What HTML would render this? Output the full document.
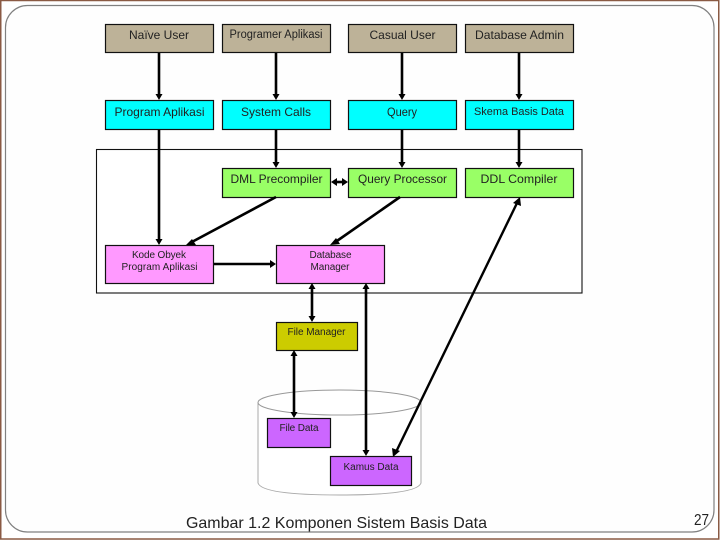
<!DOCTYPE html>
<html><head><meta charset="utf-8"><style>
html,body{margin:0;padding:0;background:#fff}
svg{display:block}
text{font-family:"Liberation Sans",sans-serif;fill:#222;text-anchor:middle}
.b{stroke:#111;stroke-width:1.2}
.a{stroke:#000;stroke-width:2.6;fill:none}
</style></head><body>
<svg width="720" height="540" viewBox="0 0 720 540" xmlns="http://www.w3.org/2000/svg">
<rect width="720" height="540" fill="#fff"/>
<rect x="0.75" y="0.5" width="718" height="538.5" fill="none" stroke="#8a5a44" stroke-width="1.5"/>
<rect x="5.5" y="5.5" width="708.5" height="526.5" rx="22" ry="22" fill="#fefefe" stroke="#808080" stroke-width="1.2"/>

<!-- container -->
<rect x="96.5" y="149.5" width="485.5" height="143.5" fill="#fff" stroke="#111" stroke-width="1.1"/>

<!-- cylinder -->
<path d="M258 402 V483 Q262 495 340 495 Q417 495 421 483 V402" fill="#fff" stroke="#aaa" stroke-width="1"/>
<ellipse cx="339.5" cy="402.5" rx="81.5" ry="12.5" fill="#fff" stroke="#999" stroke-width="1"/>

<!-- boxes -->
<g class="b">
<rect x="105.5" y="24.5" width="108" height="28" fill="#bdb298"/>
<rect x="222.5" y="24.5" width="108" height="28" fill="#bdb298"/>
<rect x="348.5" y="24.5" width="108" height="28" fill="#bdb298"/>
<rect x="465.5" y="24.5" width="108" height="28" fill="#bdb298"/>
<rect x="105.5" y="100.5" width="108" height="29" fill="#00ffff"/>
<rect x="222.5" y="100.5" width="108" height="29" fill="#00ffff"/>
<rect x="348.5" y="100.5" width="108" height="29" fill="#00ffff"/>
<rect x="465.5" y="100.5" width="108" height="29" fill="#00ffff"/>
<rect x="222.5" y="168.5" width="108" height="29" fill="#99ff66"/>
<rect x="348.5" y="168.5" width="108" height="29" fill="#99ff66"/>
<rect x="465.5" y="168.5" width="108" height="29" fill="#99ff66"/>
<rect x="105.5" y="245.5" width="108" height="38" fill="#ff99ff"/>
<rect x="276.5" y="245.5" width="108" height="38" fill="#ff99ff"/>
<rect x="276.5" y="322.5" width="81" height="28" fill="#cccc00"/>
<rect x="267.5" y="418.5" width="63" height="29" fill="#cc66ff"/>
<rect x="330.5" y="456.5" width="81" height="29" fill="#cc66ff"/>
</g>

<!-- connectors -->
<g class="a">
<path d="M159 53V96M276 53V96M402 53V96M519 53V96"/>
<path d="M159 130V240M276 130V164M402 130V164M519 130V164"/>
<path d="M335 182H344"/>
<path d="M276 197L190 243"/>
<path d="M400 197L334 243"/>
<path d="M214 264H272"/>
<path d="M312 288V318"/>
<path d="M366 288V452"/>
<path d="M294 355V414"/>
<path d="M518 201L396 452" stroke-width="2.4"/>
</g>
<g fill="#000">
<polygon points="155.5,94 162.5,94 159,100"/>
<polygon points="272.5,94 279.5,94 276,100"/>
<polygon points="398.5,94 405.5,94 402,100"/>
<polygon points="515.5,94 522.5,94 519,100"/>
<polygon points="155.5,239 162.5,239 159,245"/>
<polygon points="272.5,162 279.5,162 276,168"/>
<polygon points="398.5,162 405.5,162 402,168"/>
<polygon points="515.5,162 522.5,162 519,168"/>
<polygon points="331,182 337,178 337,186"/>
<polygon points="348,182 342,178 342,186"/>
<polygon points="186,245 192,239 196,245"/>
<polygon points="330,245 336,238 340,244"/>
<polygon points="276,264 270,260 270,268"/>
<polygon points="312,283 308.5,289 315.5,289"/>
<polygon points="312,322 308.5,316 315.5,316"/>
<polygon points="366,283 362.5,289 369.5,289"/>
<polygon points="366,456 362.5,450 369.5,450"/>
<polygon points="294,350 290.5,356 297.5,356"/>
<polygon points="294,418 290.5,412 297.5,412"/>
<polygon points="520,197 513,203 521,206"/>
<polygon points="393,457 392,448 400,451"/>
</g>

<!-- labels -->
<g font-size="12">
<text x="159" y="39" textLength="60" lengthAdjust="spacingAndGlyphs">Naïve User</text>
<text x="276" y="38" font-size="11.5" textLength="93" lengthAdjust="spacingAndGlyphs">Programer Aplikasi</text>
<text x="402.5" y="39" textLength="66" lengthAdjust="spacingAndGlyphs">Casual User</text>
<text x="519.5" y="39" textLength="89" lengthAdjust="spacingAndGlyphs">Database Admin</text>
<text x="159.5" y="116" textLength="90" lengthAdjust="spacingAndGlyphs">Program Aplikasi</text>
<text x="276" y="116" textLength="70" lengthAdjust="spacingAndGlyphs">System Calls</text>
<text x="402" y="116" textLength="30" lengthAdjust="spacingAndGlyphs">Query</text>
<text x="519" y="115" font-size="11" textLength="90" lengthAdjust="spacingAndGlyphs">Skema Basis Data</text>
<text x="276.5" y="183" textLength="92" lengthAdjust="spacingAndGlyphs">DML Precompiler</text>
<text x="402.5" y="183" textLength="89" lengthAdjust="spacingAndGlyphs">Query Processor</text>
<text x="519" y="183" textLength="77" lengthAdjust="spacingAndGlyphs">DDL Compiler</text>
</g>
<g font-size="10">
<text x="159" y="258" textLength="54" lengthAdjust="spacing">Kode Obyek</text>
<text x="159.5" y="270" textLength="76" lengthAdjust="spacing">Program Aplikasi</text>
<text x="330.5" y="258" textLength="42" lengthAdjust="spacing">Database</text>
<text x="330" y="270" textLength="39" lengthAdjust="spacing">Manager</text>
<text x="316.5" y="335" textLength="58" lengthAdjust="spacing">File Manager</text>
<text x="299" y="431" textLength="39" lengthAdjust="spacing">File Data</text>
<text x="371" y="470" textLength="55" lengthAdjust="spacing">Kamus Data</text>
</g>
<text x="336.5" y="528" font-size="16" textLength="301" lengthAdjust="spacingAndGlyphs">Gambar 1.2 Komponen Sistem Basis Data</text>
<text x="701.5" y="525" font-size="16" fill="#000" textLength="15" lengthAdjust="spacingAndGlyphs">27</text>
</svg>
</body></html>
